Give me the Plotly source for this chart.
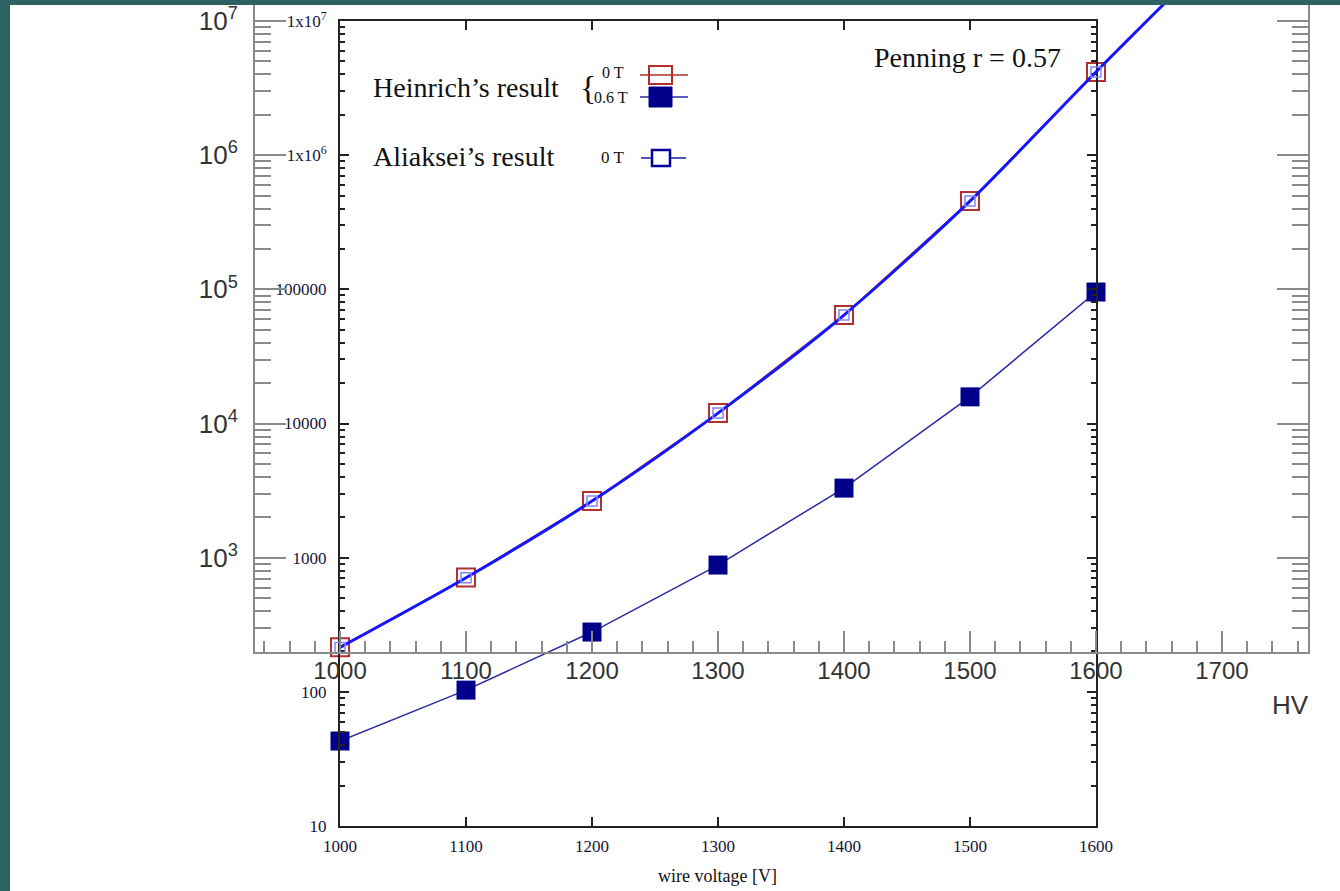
import plotly.graph_objects as go

# ---------------- data ----------------
voltage = [1000, 1100, 1200, 1300, 1400, 1500, 1600]
heinrich_0T = [215, 710, 2645, 11970, 64400, 455000, 4.17e6]
heinrich_06T = [43, 103, 279, 881, 3300, 15800, 95500]
aliaksei_V = [1000, 1100, 1200, 1300, 1400, 1500, 1600, 1700]
aliaksei_0T = [215, 710, 2645, 11970, 64400, 455000, 4.17e6, 3.6e7]

hv_ticks = [1000, 1100, 1200, 1300, 1400, 1500, 1600, 1700]
wire_ticks = [1000, 1100, 1200, 1300, 1400, 1500, 1600]
gain_ticks_B = [10, 100, 1000, 10000, 100000, 1e6, 1e7]
gain_text_B = ["10", "100", "1000", "10000", "100000", "1x10<sup>6</sup>", "1x10<sup>7</sup>"]
gain_ticks_A = [1e3, 1e4, 1e5, 1e6, 1e7]
gain_text_A = ["10<sup>3</sup>", "10<sup>4</sup>", "10<sup>5</sup>", "10<sup>6</sup>", "10<sup>7</sup>"]

W, H = 1340, 891
def px(x):
    return x / W
def py(y):
    return 1 - y / H

minor_B = [k * 10 ** n for n in range(1, 7) for k in range(2, 10)]
minor_A = [k * 10 ** n for n in range(2, 8) for k in range(2, 10)]

SERIF = "Liberation Serif"
SANS = "Liberation Sans"
TICKB = "#14143a"

fig = go.Figure()

# Heinrich (gnuplot-style plot, axes x/y)
fig.add_trace(go.Scatter(
    x=voltage, y=heinrich_0T, mode="lines+markers",
    line=dict(color="#b03030", width=1.5),
    marker=dict(symbol="square-open", size=18, color="#b03030", line=dict(width=2, color="#b03030")),
    xaxis="x", yaxis="y", showlegend=False, cliponaxis=False))
fig.add_trace(go.Scatter(
    x=voltage, y=heinrich_06T, mode="lines+markers",
    line=dict(color="#2a2aa0", width=1.5),
    marker=dict(symbol="square", size=19, color="#00008b", line=dict(width=0)),
    xaxis="x", yaxis="y", showlegend=False, cliponaxis=False))

# Aliaksei (ROOT-style plot, axes x2/y2)
fig.add_trace(go.Scatter(
    x=aliaksei_V, y=aliaksei_0T, mode="lines+markers",
    line=dict(color="#1515ff", width=3, shape="spline", smoothing=0.8),
    marker=dict(symbol="square-open", size=10, color="#8585ff", line=dict(width=1.5, color="#8585ff")),
    xaxis="x2", yaxis="y2", showlegend=False))

annotations = [
    dict(x=px(371), y=py(87), text="Heinrich’s result", xanchor="left", yanchor="middle",
         font=dict(family=SERIF, size=28, color="#111")),
    dict(x=px(578), y=py(87), text="{", xanchor="left", yanchor="middle",
         font=dict(family=SERIF, size=34, color="#111")),
    dict(x=px(613), y=py(73), text="0 T", xanchor="center", yanchor="middle",
         font=dict(family=SERIF, size=16, color="#111")),
    dict(x=px(611), y=py(97), text="0.6 T", xanchor="center", yanchor="middle",
         font=dict(family=SERIF, size=16, color="#111")),
    dict(x=px(371), y=py(157), text="Aliaksei’s result", xanchor="left", yanchor="middle",
         font=dict(family=SERIF, size=28, color="#111")),
    dict(x=px(612), y=py(158), text="0 T", xanchor="center", yanchor="middle",
         font=dict(family=SERIF, size=17, color="#111")),
    dict(x=px(872), y=py(57), text="Penning r = 0.57", xanchor="left", yanchor="middle",
         font=dict(family=SERIF, size=28, color="#111")),
    dict(x=px(1290), y=py(705), text="HV", xanchor="center", yanchor="middle",
         font=dict(family=SANS, size=26, color="#333")),
    dict(x=px(717), y=py(876), text="wire voltage [V]", xanchor="center", yanchor="middle",
         font=dict(family=SERIF, size=18, color="#111")),
]
for a in annotations:
    a.update(xref="paper", yref="paper", showarrow=False)

shapes = [
    # white page over teal frame
    dict(type="rect", xref="paper", yref="paper", x0=px(10), x1=1, y0=0, y1=py(5),
         fillcolor="white", line=dict(width=0), layer="below"),
    # legend glyphs
    dict(type="line", xref="paper", yref="paper", x0=px(640), x1=px(688), y0=py(75), y1=py(75),
         line=dict(color="#b03030", width=1.5)),
    dict(type="rect", xref="paper", yref="paper", x0=px(649), x1=px(672), y0=py(84), y1=py(66),
         line=dict(color="#b03030", width=2), fillcolor="rgba(0,0,0,0)"),
    dict(type="line", xref="paper", yref="paper", x0=px(640), x1=px(688), y0=py(97), y1=py(97),
         line=dict(color="#2a2aa0", width=1.5)),
    dict(type="rect", xref="paper", yref="paper", x0=px(649), x1=px(672), y0=py(107), y1=py(87),
         line=dict(color="#00008b", width=1), fillcolor="#00008b"),
    dict(type="line", xref="paper", yref="paper", x0=px(641), x1=px(686), y0=py(158), y1=py(158),
         line=dict(color="#1a1ab0", width=1.5)),
    dict(type="rect", xref="paper", yref="paper", x0=px(652), x1=px(670), y0=py(166), y1=py(150),
         line=dict(color="#000099", width=2.5), fillcolor="white"),
]

fig.update_layout(
    width=W, height=H,
    margin=dict(l=0, r=0, t=0, b=0, pad=0, autoexpand=False),
    paper_bgcolor="#2c6264",
    plot_bgcolor="rgba(0,0,0,0)",
    showlegend=False,
    annotations=annotations,
    shapes=shapes,
    # gnuplot-style (Heinrich)
    xaxis=dict(
        domain=[px(340), px(1096)], range=[1000, 1600], anchor="y", automargin=False,
        tickvals=wire_ticks, ticks="inside", ticklen=9, tickwidth=1.5, tickcolor="#222",
        showline=True, linecolor="#222", linewidth=2, mirror="ticks",
        showgrid=False, zeroline=False, ticklabelstandoff=4,
        tickfont=dict(family=SERIF, size=17, color=TICKB)),
    yaxis=dict(
        domain=[py(826), py(21)], type="log", range=[1, 7], anchor="x", automargin=False,
        tickvals=gain_ticks_B, ticktext=gain_text_B,
        ticks="inside", ticklen=9, tickwidth=1.5, tickcolor="#222",
        minor=dict(tickvals=minor_B, ticks="inside", ticklen=5, tickwidth=1.5, tickcolor="#222"),
        showline=True, linecolor="#222", linewidth=2, mirror="ticks",
        showgrid=False, zeroline=False, ticklabelstandoff=8,
        tickfont=dict(family=SERIF, size=17, color=TICKB)),
    # ROOT-style (Aliaksei)
    xaxis2=dict(
        domain=[px(255), px(1308)], range=[932.5, 1768.3], anchor="y2", automargin=False,
        tickvals=hv_ticks, ticks="inside", ticklen=21, tickwidth=1.5, tickcolor="#8a8a8a",
        minor=dict(dtick=20, tick0=0, ticks="inside", ticklen=11, tickwidth=1.5, tickcolor="#8a8a8a"),
        showline=True, linecolor="#8a8a8a", linewidth=2, mirror=False,
        showgrid=False, zeroline=False, ticklabelstandoff=-4,
        tickfont=dict(family=SANS, size=24, color="#333")),
    yaxis2=dict(
        domain=[py(652), py(5)], type="log", range=[2.298, 7.119], anchor="x2", automargin=False,
        tickvals=gain_ticks_A, ticktext=gain_text_A,
        ticks="inside", ticklen=31, tickwidth=1.5, tickcolor="#8a8a8a",
        minor=dict(tickvals=minor_A, ticks="inside", ticklen=16, tickwidth=1.5, tickcolor="#8a8a8a"),
        showline=True, linecolor="#8a8a8a", linewidth=2, mirror="ticks",
        showgrid=False, zeroline=False, ticklabelstandoff=10,
        tickfont=dict(family=SANS, size=26, color="#333")),
)

fig.write_html("out.html")
